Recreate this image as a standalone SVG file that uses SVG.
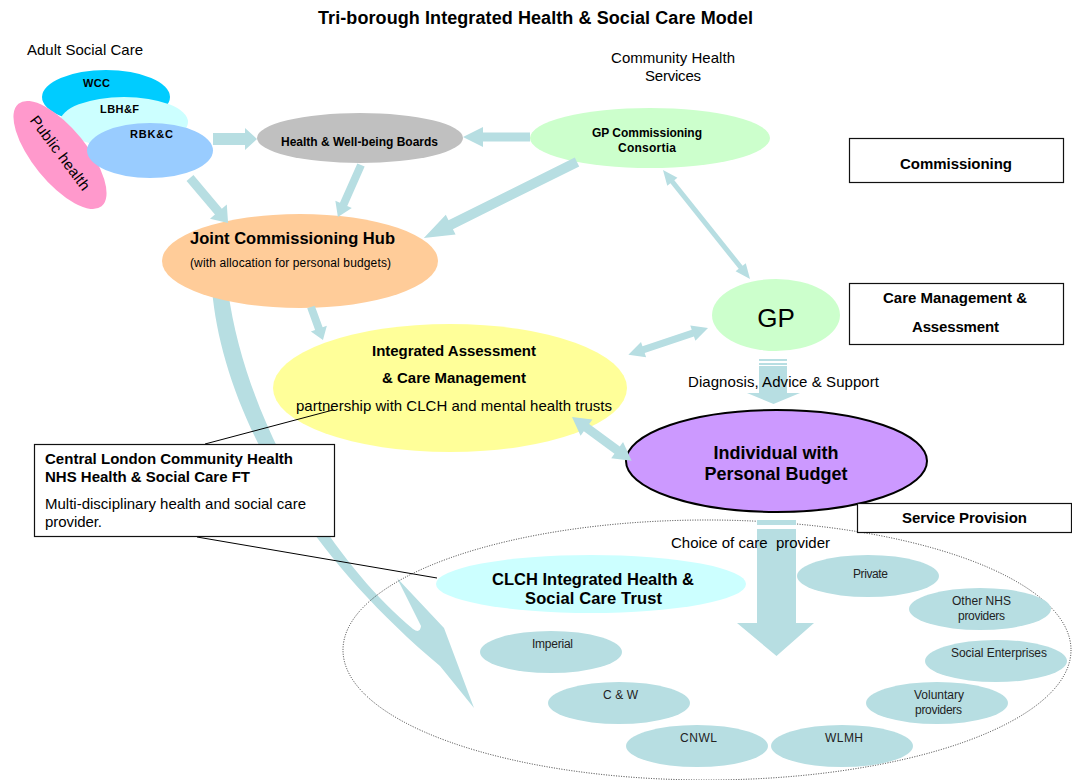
<svg xmlns="http://www.w3.org/2000/svg" width="1072" height="780" viewBox="0 0 1072 780">
<style>
.t{font-family:"Liberation Sans",Arial,sans-serif;fill:#000}
.b{font-weight:bold}
.m{text-anchor:middle}
.arr{fill:#B7DEE2}
.box{fill:#fff;stroke:#111;stroke-width:1.2}
.prov{fill:#B7DEE2}
.pt{font-family:"Liberation Sans",Arial,sans-serif;font-size:12px;fill:#222}
.call{stroke:#000;stroke-width:1;fill:none}
</style>
<rect width="1072" height="780" fill="#fff"/>
<text class="t b" x="318" y="24" font-size="18" textLength="435" lengthAdjust="spacing">Tri-borough Integrated Health &amp; Social Care Model</text>

<g id="connectors-back">
<path class="arr" d="M212,290 C222,400 290,540 440,666 L474,708 L444,628 L397,578 L421,626 Q420,634 413,629 C330,560 245,420 228,290 Z"/>
</g>

<g id="service-area">
<ellipse cx="707" cy="650" rx="364" ry="130" fill="none" stroke="#222" stroke-width="0.9" stroke-dasharray="1 1.5"/>
</g>

<g id="adult-social-care">
<text class="t" x="27" y="55" font-size="15" textLength="116" lengthAdjust="spacing">Adult Social Care</text>
</g>
<g id="wcc"><ellipse cx="106" cy="97" rx="64" ry="27" fill="#00CCFF"/><text class="t b" x="83" y="87" font-size="11" textLength="27" lengthAdjust="spacing">WCC</text></g>
<g id="lbhf"><ellipse cx="124" cy="122" rx="64" ry="25" fill="#CCFFFF"/><text class="t b" x="100" y="113" font-size="11" textLength="39" lengthAdjust="spacing">LBH&amp;F</text></g>
<g id="public-health"><ellipse cx="0" cy="0" rx="66" ry="27" fill="#FF99CC" transform="translate(60,155) rotate(51)"/><text class="t m" font-size="15" x="0" y="5" transform="translate(60,153) rotate(53)" textLength="89" lengthAdjust="spacing">Public health</text></g>
<g id="rbkc"><ellipse cx="150" cy="150.5" rx="63" ry="27.5" fill="#99CCFF"/><text class="t b" x="130" y="138" font-size="11" textLength="43" lengthAdjust="spacing">RBK&amp;C</text></g>

<g id="hwb"><ellipse cx="360" cy="138" rx="103" ry="25" fill="#C0C0C0"/><text class="t b" x="281" y="146" font-size="12" textLength="157" lengthAdjust="spacing">Health &amp; Well-being Boards</text></g>

<g id="community-health"><text class="t" x="611" y="63" font-size="15" textLength="124" lengthAdjust="spacing">Community Health</text><text class="t" x="645" y="81" font-size="15" textLength="56" lengthAdjust="spacing">Services</text></g>
<g id="gp-consortia"><ellipse cx="650" cy="138" rx="120" ry="30" fill="#CCFFCC"/><text class="t b" x="592" y="137" font-size="12" textLength="110" lengthAdjust="spacing">GP Commissioning</text><text class="t b" x="618" y="152" font-size="12" textLength="58" lengthAdjust="spacing">Consortia</text></g>

<g id="joint-hub"><ellipse cx="300" cy="261" rx="138" ry="47" fill="#FFCC99"/><text class="t b" x="190" y="244" font-size="16.5" textLength="205" lengthAdjust="spacing">Joint Commissioning Hub</text><text class="t" x="190" y="267" font-size="12" textLength="201" lengthAdjust="spacing">(with allocation for personal budgets)</text></g>

<g id="integrated-assessment"><ellipse cx="450" cy="388" rx="177" ry="64" fill="#FFFF99"/><text class="t b" x="372" y="356" font-size="15" textLength="164" lengthAdjust="spacing">Integrated Assessment</text><text class="t b" x="382" y="383" font-size="15" textLength="144" lengthAdjust="spacing">&amp; Care Management</text><text class="t" x="296" y="411" font-size="15" textLength="316" lengthAdjust="spacing">partnership with CLCH and mental health trusts</text></g>

<g id="gp"><ellipse cx="776" cy="315" rx="64" ry="36" fill="#CCFFCC"/><text class="t m" x="776" y="327" font-size="26">GP</text></g>

<g id="individual"><ellipse cx="776.5" cy="461" rx="150.5" ry="51" fill="#CC99FF" stroke="#000" stroke-width="2"/><text class="t b m" x="776" y="459" font-size="18">Individual with</text><text class="t b m" x="776" y="480" font-size="18">Personal Budget</text></g>

<g id="clch-trust"><ellipse cx="591" cy="584" rx="155" ry="29" fill="#CCFFFF"/><text class="t b" x="492" y="585" font-size="16.5" textLength="202" lengthAdjust="spacing">CLCH Integrated Health &amp;</text><text class="t b" x="525" y="604" font-size="16.5" textLength="137" lengthAdjust="spacing">Social Care Trust</text></g>

<g id="private"><ellipse class="prov" cx="868" cy="576" rx="71" ry="21"/><text class="pt" x="853" y="578" textLength="35" lengthAdjust="spacing">Private</text></g>
<g id="other-nhs"><ellipse class="prov" cx="980" cy="609" rx="71" ry="21"/><text class="pt" x="952" y="605" textLength="59" lengthAdjust="spacing">Other NHS</text><text class="pt" x="958" y="620" textLength="47" lengthAdjust="spacing">providers</text></g>
<g id="social-enterprises"><ellipse class="prov" cx="996" cy="661" rx="71" ry="21"/><text class="pt" x="951" y="657" textLength="96" lengthAdjust="spacing">Social Enterprises</text></g>
<g id="voluntary"><ellipse class="prov" cx="937" cy="703" rx="71" ry="21"/><text class="pt" x="914" y="699" textLength="50" lengthAdjust="spacing">Voluntary</text><text class="pt" x="915" y="714" textLength="47" lengthAdjust="spacing">providers</text></g>
<g id="wlmh"><ellipse class="prov" cx="842" cy="746" rx="71" ry="21"/><text class="pt" x="825" y="742" textLength="38" lengthAdjust="spacing">WLMH</text></g>
<g id="cnwl"><ellipse class="prov" cx="697" cy="746" rx="71" ry="21"/><text class="pt" x="680" y="742" textLength="37" lengthAdjust="spacing">CNWL</text></g>
<g id="cw"><ellipse class="prov" cx="619" cy="703" rx="71" ry="21"/><text class="pt" x="603" y="699" textLength="35" lengthAdjust="spacing">C &amp; W</text></g>
<g id="imperial"><ellipse class="prov" cx="551" cy="652" rx="71" ry="21"/><text class="pt" x="532" y="648" textLength="41" lengthAdjust="spacing">Imperial</text></g>

<g id="connectors">
<path class="arr" transform="translate(213,139)" d="M0,-6 L32,-6 L32,-11 L44,0 L32,11 L32,6 L0,6 Z"/>
<path class="arr" transform="translate(530,137) rotate(180)" d="M0,-4.5 L47,-4.5 L47,-10 L67,0 L47,10 L47,4.5 L0,4.5 Z"/>
<path class="arr" transform="translate(190,178) rotate(49.8)" d="M0,-4.5 L44,-4.5 L44,-11 L59,0 L44,11 L44,4.5 L0,4.5 Z"/>
<path class="arr" transform="translate(361,165) rotate(113.9)" d="M0,-4 L43,-4 L43,-9 L57,0 L43,9 L43,4 L0,4 Z"/>
<path class="arr" transform="translate(577,162) rotate(153.6)" d="M0,-5 L141,-5 L141,-11 L171,0 L141,11 L141,5 L0,5 Z"/>
<path class="arr" transform="translate(663,170) rotate(51.4)" d="M0,0 L15,-6.5 L15,-2.5 L124.5,-2.5 L124.5,-6.5 L139.5,0 L124.5,6.5 L124.5,2.5 L15,2.5 L15,6.5 Z"/>
<path class="arr" transform="translate(311,307) rotate(70)" d="M0,-4 L23,-4 L23,-8.5 L35,0 L23,8.5 L23,4 L0,4 Z"/>
<path class="arr" transform="translate(708,328) rotate(161.4)" d="M0,0 L16,-8 L16,-3.5 L68,-3.5 L68,-8 L84,0 L68,8 L68,3.5 L16,3.5 L16,8 Z"/>
<path class="arr" transform="translate(572,417) rotate(36.3)" d="M0,0 L18,-10 L18,-4.5 L56,-4.5 L56,-10 L74,0 L56,10 L56,4.5 L18,4.5 L18,10 Z"/>
<rect class="arr" x="759" y="359" width="28" height="2"/>
<rect class="arr" x="759" y="363" width="28" height="2"/>
<path class="arr" d="M759,366 L787,366 L787,393 L800,393 L773.5,404 L747,393 L759,393 Z"/>
<rect class="arr" x="757" y="520" width="39" height="5"/>
<path class="arr" d="M757,529 L796,529 L796,623 L814,623 L776.5,656 L737,623 L757,623 Z"/>
<line class="call" x1="205" y1="444" x2="333" y2="410"/>
<line class="call" x1="197" y1="537" x2="437" y2="578"/>
</g>

<g id="diagnosis-label"><text class="t" x="688" y="387" font-size="15" textLength="191" lengthAdjust="spacing">Diagnosis, Advice &amp; Support</text></g>
<g id="choice-label"><text class="t" x="671" y="548" font-size="15" xml:space="preserve" textLength="159" lengthAdjust="spacing">Choice of care  provider</text></g>

<g id="commissioning"><rect class="box" x="849.5" y="138.5" width="214" height="44"/><text class="t b" x="900" y="169" font-size="15" textLength="112" lengthAdjust="spacing">Commissioning</text></g>
<g id="care-management"><rect class="box" x="849.5" y="283.5" width="214" height="61"/><text class="t b" x="883" y="303" font-size="15" textLength="144" lengthAdjust="spacing">Care Management &amp;</text><text class="t b" x="912" y="332" font-size="15" textLength="87" lengthAdjust="spacing">Assessment</text></g>
<g id="service-provision"><rect class="box" x="857.5" y="503.5" width="214" height="29"/><text class="t b" x="902" y="523" font-size="15" textLength="125" lengthAdjust="spacing">Service Provision</text></g>

<g id="clch-ft"><rect class="box" x="34.5" y="444.5" width="300" height="92"/>
<text class="t b" x="45" y="464" font-size="15" textLength="248" lengthAdjust="spacing">Central London Community Health</text>
<text class="t b" x="45" y="482" font-size="15" textLength="205" lengthAdjust="spacing">NHS Health &amp; Social Care FT</text>
<text class="t" x="45" y="509" font-size="15" textLength="261" lengthAdjust="spacing">Multi-disciplinary health and social care</text>
<text class="t" x="45" y="527" font-size="15" textLength="57" lengthAdjust="spacing">provider.</text></g>
</svg>
